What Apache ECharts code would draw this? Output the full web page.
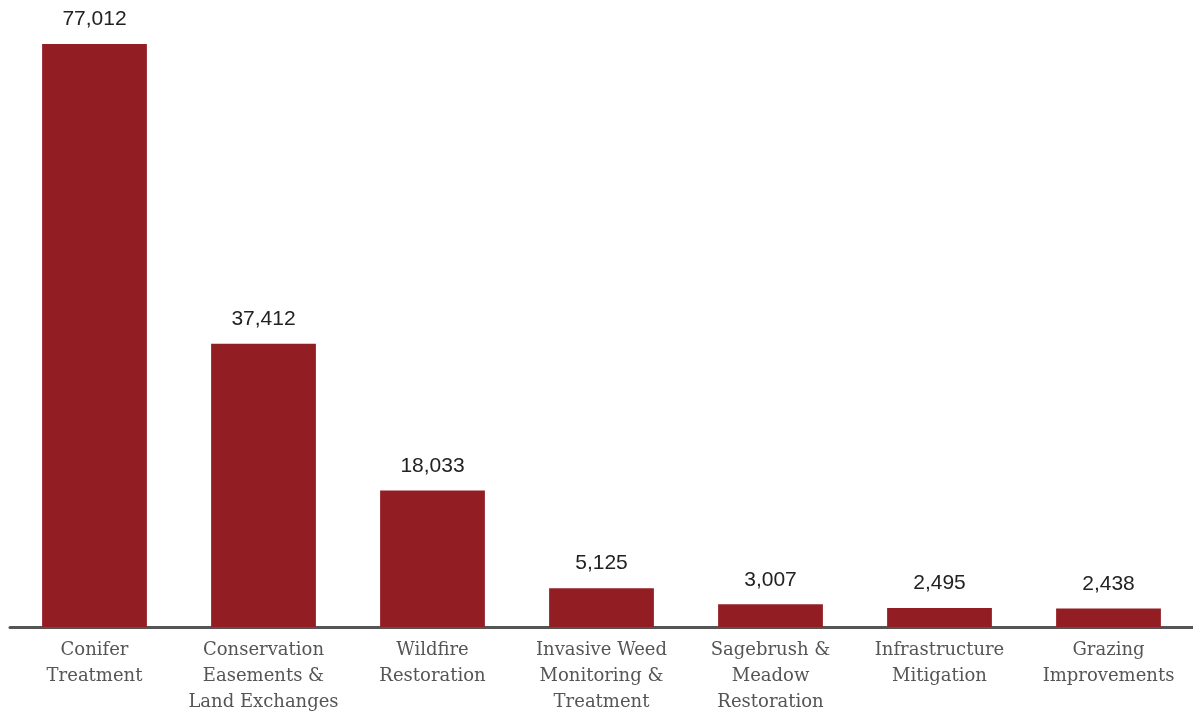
<!DOCTYPE html>
<html><head><meta charset="utf-8">
<script src="https://cdn.jsdelivr.net/npm/echarts@6/dist/echarts.min.js"></script>
<style>html,body{margin:0;padding:0;background:#fff}#c{width:1193px;height:715px}</style>
</head><body><div id="c"></div>
<script>
const categories = ["Conifer\nTreatment","Conservation\nEasements &\nLand Exchanges","Wildfire\nRestoration","Invasive Weed\nMonitoring &\nTreatment","Sagebrush &\nMeadow\nRestoration","Infrastructure\nMitigation","Grazing\nImprovements"];
const values = [77012, 37412, 18033, 5125, 3007, 2495, 2438];

const chart = echarts.init(document.getElementById('c'));
chart.setOption({
  animation: false,
  grid: {left: 10, right: -2, top: 44, bottom: 88},
  xAxis: {
    type: 'category', data: categories,
    axisLine: {lineStyle: {color: '#555', width: 3}},
    axisTick: {show: false},
    axisLabel: {interval: 0, margin: 10, fontFamily: 'DejaVu Serif', fontSize: 18, lineHeight: 26, color: '#555'}
  },
  yAxis: {type: 'value', min: 0, max: 77012, show: false, splitLine: {show: false}},
  series: [{
    type: 'bar', data: values, barCategoryGap: '38%',
    itemStyle: {color: '#921e24'},
    label: {show: true, position: 'top', distance: 14, fontFamily: 'Liberation Sans', fontSize: 21, color: '#222',
      formatter: p => p.value.toLocaleString('en-US')}
  }]
});
</script></body></html>
